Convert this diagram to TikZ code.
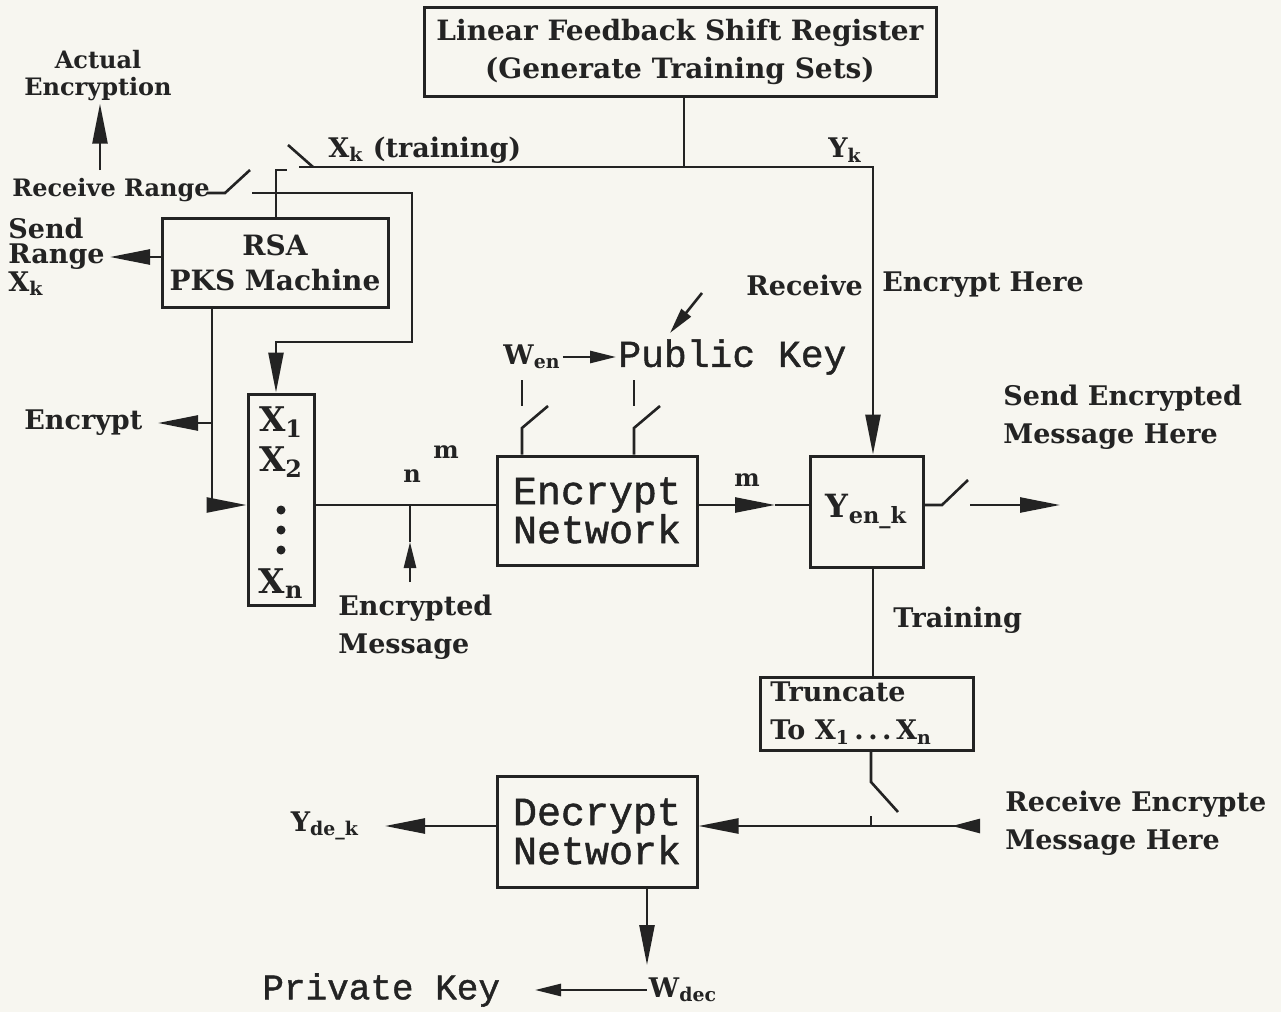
\documentclass[tikz,border=0pt]{standalone}
\usepackage{fontspec}
\setmainfont{DejaVu Serif}
\newfontfamily\bigfont{Liberation Mono}[FakeBold=1.2]
\usetikzlibrary{arrows.meta}
\definecolor{ink}{RGB}{35,35,35}
\definecolor{paper}{RGB}{247,246,240}
\begin{document}
\begin{tikzpicture}[x=0.5pt,y=-0.5pt,
  ln/.style={draw=ink, line width=1.3pt},
  arr/.style={-{Triangle[length=20pt,width=7.5pt]}},
  arrs/.style={-{Triangle[length=13pt,width=6pt]}},
  boxn/.style={draw=ink, line width=1.5pt, inner sep=0pt, text=ink},
  lbl/.style={text=ink, inner sep=1pt, font=\fontsize{13.5}{19}\selectfont\bfseries},
  lbls/.style={text=ink, inner sep=1pt, font=\fontsize{12}{13.5}\selectfont\bfseries},
  big/.style={text=ink, inner sep=1pt, font=\fontsize{20}{19.5}\bigfont},
  xl/.style={text=ink, inner sep=0pt, font=\fontsize{17}{19}\selectfont\bfseries},
  dotn/.style={circle, fill=ink, inner sep=0pt, minimum size=4.5pt},
]
\fill[paper] (0,0) rectangle (1281,1012);
\useasboundingbox (0,0) rectangle (1281,1012);

% boxes
\node[boxn, minimum width=256pt, minimum height=44.5pt, align=center,
  font=\fontsize{14}{19}\selectfont\bfseries] (lfsr) at (680,51.5)
  {Linear Feedback Shift Register\\(Generate Training Sets)};
\node[boxn, minimum width=113pt, minimum height=44.5pt, align=center,
  font=\fontsize{14}{17.5}\selectfont\bfseries] (rsa) at (275,262.5) {RSA\\PKS Machine};
\node[boxn, minimum width=33pt, minimum height=105.5pt] (xbox) at (281,499.5) {};
\node[xl] (x1) at (281,422) {X\textsubscript{1}};
\node[xl] (x2) at (281,462) {X\textsubscript{2}};
\node[dotn] (d1) at (281,510) {};
\node[dotn] (d2) at (281,530) {};
\node[dotn] (d3) at (281,550) {};
\node[xl] (xn) at (281,584) {X\textsubscript{n}};
\node[boxn, minimum width=100pt, minimum height=54.5pt, align=center, big] (encnet) at (597,510.5) {Encrypt\\Network};
\node[boxn, minimum width=56.5pt, minimum height=55.5pt, font=\fontsize{16}{18}\selectfont\bfseries] (ybox) at (866.5,511.5) {Y\textsubscript{en\_k}};
\node[boxn, minimum width=106.5pt, minimum height=36.5pt] (trunc) at (866.5,713.5) {};
\node[lbl, anchor=west, align=left] (trunctxt) at (768,713) {Truncate\\To X\textsubscript{1}\,.\,.\,.\,X\textsubscript{n}};
\node[boxn, minimum width=100pt, minimum height=55.5pt, align=center, big] (decnet) at (597,831.5) {Decrypt\\Network};

% labels
\node[lbl, anchor=west] (xk) at (326,150) {X\textsubscript{k} (training)};
\node[lbl] (yk) at (845,150) {Y\textsubscript{k}};
\node[lbls, align=center] (actual) at (98,76) {Actual\\Encryption};
\node[lbls, anchor=west] (rr) at (10,190) {Receive Range};
\node[lbl, anchor=west, align=left, font=\fontsize{13.5}{12.5}\selectfont\bfseries] (sr) at (6,257) {Send\\Range\\X\textsubscript{k}};
\node[lbl, anchor=west] (enclbl) at (22,423) {Encrypt};
\node[lbls] (nlbl) at (412,476) {n};
\node[lbls] (mlbl1) at (446,452) {m};
\node[lbl, anchor=west, align=left] (emsg) at (336,627) {Encrypted\\Message};
\node[lbl] (wen) at (532,357) {W\textsubscript{en}};
\node[big, anchor=west, font=\fontsize{19}{20}\bigfont] (pk) at (616,357) {Public Key};
\node[lbl, anchor=west] (recv) at (744,285) {Receive};
\node[lbl, anchor=west] (ench) at (880,285) {Encrypt Here};
\node[lbls] (mlbl2) at (747,480) {m};
\node[lbl, anchor=west, align=left] (sendem) at (1001,417) {Send Encrypted\\Message Here};
\node[lbl, anchor=west] (trn) at (891,620) {Training};
\node[lbl, anchor=west, align=left] (recvem) at (1003,823) {Receive Encrypte\\Message Here};
\node[lbl] (ydek) at (325,826) {Y\textsubscript{de\_k}};
\node[lbl] (wdec) at (683,990) {W\textsubscript{dec}};
\node[big, anchor=west, font=\fontsize{18}{20}\bigfont] (privk) at (260,990) {Private Key};

% LFSR bus
\coordinate (bus) at (684,167);
\coordinate (busL) at (299,167);
\coordinate (ytop) at (873,167);
\draw[ln] (lfsr.south -| bus) -- (bus);
\draw[ln, arr] (busL) -- (ytop) -- (ybox.north -| ytop);

% switch at RSA top
\coordinate (s2a) at (276,170);
\draw[ln] (rsa.north -| s2a) -- (s2a) -- ++(11,0);
\coordinate (s2b) at (288,145);
\draw[ln] (s2b) -- ++(25,22);

% receive range switch
\coordinate (s1a) at (207,193);
\draw[ln] (s1a) -- ++(18,0) -- ++(25,-23);
\coordinate (s1) at (252,193);
\coordinate (s1c) at (412,193);
\coordinate (s1d) at (412,342);
\coordinate (s1e) at (276,342);
\draw[ln, arr] (s1) -- (s1c) -- (s1d) -- (s1e) -- (xbox.north -| s1e);

% actual encryption
\coordinate (ae) at (100,170);
\draw[ln, arr] (ae) -- (actual.south -| ae);

% send range
\coordinate (srtip) at (110,257);
\draw[ln, arr] (rsa.west |- srtip) -- (srtip);

% RSA to X box
\coordinate (j1) at (212,505);
\draw[ln, arr] (rsa.south -| j1) -- (j1) -- (xbox.west |- j1);
\coordinate (j2) at (212,423);
\coordinate (enctip) at (158,423);
\draw[ln, arr] (j2) -- (enctip);

% X box to encrypt network
\draw[ln] (xbox.east |- j1) -- (encnet.west |- j1);
\coordinate (em1) at (410,582);
\coordinate (em2) at (410,542);
\coordinate (em3) at (410,505);
\draw[ln, arrs] (em1) -- (em2);
\draw[ln] (em2) -- (em3);

% Wen -> public key
\draw[ln, arrs] (wen.east) -- (pk.west);

% key switches
\coordinate (s3) at (522,428);
\draw[ln] (encnet.north -| s3) -- (s3) -- ++(26,-22);
\coordinate (s3t) at (522,380);
\draw[ln] (s3t) -- ++(0,26);
\coordinate (s4) at (634,428);
\draw[ln] (encnet.north -| s4) -- (s4) -- ++(26,-22);
\coordinate (s4t) at (634,380);
\draw[ln] (s4t) -- ++(0,26);

% receive encrypt here arrow
\coordinate (ra1) at (702,293);
\coordinate (ra2) at (670,333);
\draw[ln, arrs] (ra1) -- (ra2);

% m arrow
\coordinate (mtip) at (775,505);
\draw[ln, arr] (encnet.east |- j1) -- (mtip);
\draw[ln] (mtip) -- (ybox.west |- j1);

% output switch
\coordinate (o1) at (942,505);
\draw[ln] (ybox.east |- o1) -- (o1) -- ++(26,-25);
\coordinate (o2) at (970,505);
\coordinate (o3) at (1060,505);
\draw[ln, arr] (o2) -- (o3);

% Y to truncate
\draw[ln] (ybox.south -| ytop) -- (trunc.north -| ytop);

% truncate to bottom switch
\coordinate (s6) at (871,782);
\draw[ln] (trunc.south -| s6) -- (s6) -- ++(27,30);
\coordinate (s6b) at (871,826);
\draw[ln] (s6b) -- ++(0,-10);

% receive bottom
\coordinate (rb) at (980,826);
\draw[ln, {Triangle[reversed,length=14pt,width=7pt]}-{Triangle[length=20pt,width=7.5pt]}] (rb) -- (decnet.east |- rb);

% decrypt outputs
\coordinate (ydtip) at (385,826);
\draw[ln, arr] (decnet.west |- rb) -- (ydtip);
\coordinate (dw) at (647,965);
\draw[ln, arr] (decnet.south -| dw) -- (dw);
\coordinate (pktip) at (535,990);
\draw[ln, arrs] (wdec.west) -- (pktip);
\end{tikzpicture}
\end{document}
